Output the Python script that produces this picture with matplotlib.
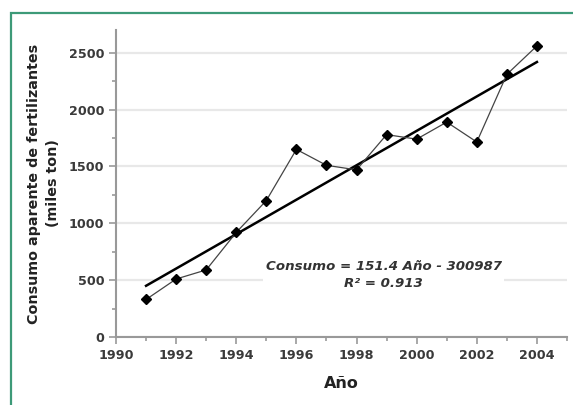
import matplotlib
matplotlib.use("Agg")
import matplotlib.pyplot as plt
import matplotlib.patches as mpatches
import numpy as np

years = [1991, 1992, 1993, 1994, 1995, 1996, 1997, 1998, 1999, 2000, 2001, 2002, 2003, 2004]
consumo = [330, 510, 590, 920, 1200, 1650, 1510, 1470, 1780, 1740, 1890, 1715, 2310, 2560]
slope = 151.4
intercept = -300987
r2 = 0.913
x_ticks = [1990, 1992, 1994, 1996, 1998, 2000, 2002, 2004]
y_ticks = [0, 500, 1000, 1500, 2000, 2500]

fig = plt.figure(figsize=(5.73, 4.05), dpi=100)
ax = fig.add_axes([116/573, 1-337/405, (567-116)/573, (337-30)/405])

# border
fig.patches.append(mpatches.Rectangle((11/573, -0.05), 1.1, 1-13/405+0.05, transform=fig.transFigure,
                                      fill=False, edgecolor='#3d9a78', lw=1.6, clip_on=False))

x = np.array(years)
ax.plot(x, consumo, color='#444444', lw=0.9, marker='D', ms=5.5, mfc='black', mec='black', zorder=3)
xt = np.array([years[0], years[-1]])
ax.plot(xt, slope*xt + intercept, color='black', lw=1.8, zorder=2)

ax.set_xlim(1990, 2005)
ax.set_ylim(0, 2700)
ax.set_xticks(x_ticks)
ax.set_xticks(range(1990, 2006), minor=True)
ax.set_yticks(y_ticks)
ax.set_yticks(np.arange(0, 2700, 250), minor=True)
for s in ['top', 'right']:
    ax.spines[s].set_visible(False)
for s in ['left', 'bottom']:
    ax.spines[s].set_color('#999999')
    ax.spines[s].set_linewidth(1.5)
ax.tick_params(which='both', color='#999999', width=1.2, labelcolor='#3a3a3a', labelsize=9.2)
ax.tick_params(which='major', length=5)
ax.tick_params(which='minor', length=3)
for lab in ax.get_xticklabels() + ax.get_yticklabels():
    lab.set_fontweight('bold')
ax.yaxis.grid(True, which='major', color='#e8e8e8', lw=1.6)
ax.set_axisbelow(True)

ax.set_ylabel('Consumo aparente de fertilizantes\n(miles ton)', fontsize=10.3, fontweight='bold',
              color='#222222', labelpad=6, linespacing=1.45)
ax.set_xlabel('Año', fontsize=11.5, fontweight='bold', color='#222222', labelpad=10)

ax.text(1998.9, 545, f'Consumo = {slope} Año - {-intercept}\nR² = {r2}', ha='center', va='center',
        fontsize=9.6, fontstyle='italic', fontweight='bold', color='#333333', linespacing=1.35,
        bbox=dict(facecolor='white', edgecolor='none', pad=2), zorder=4)

fig.savefig('out.png', dpi=100)
